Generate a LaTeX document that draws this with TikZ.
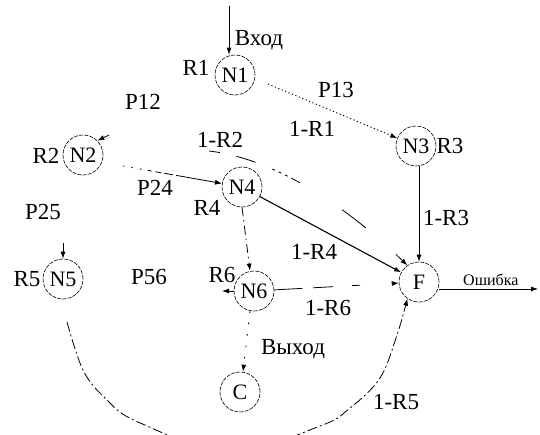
\documentclass[tikz,border=0pt]{standalone}
\usepackage{fontspec}
\setmainfont{Liberation Serif}
\usetikzlibrary{arrows.meta}
\begin{document}
\begin{tikzpicture}[x=1pt,y=-1pt,
  lbl/.style={font=\fontsize{23}{26}\selectfont, inner sep=0pt},
  st/.style={circle, draw, line width=0.6pt, dash pattern=on 4pt off 1.2pt, minimum size=40pt, inner sep=0pt, font=\fontsize{22}{25}\selectfont},
  tip/.style={-{Latex[length=7pt,width=5pt]}},
  conn/.style={line width=0.8pt},
  dotl/.style={line width=0.9pt, dash pattern=on 1.2pt off 2.5pt},
  fade/.style={line width=0.8pt, dash pattern=on 1.5pt off 7pt on 1.5pt off 7pt on 2pt off 6pt on 4pt off 4pt on 6pt off 3pt on 9pt off 3pt on 40pt off 1pt},
  dashdotl/.style={line width=0.8pt, dash pattern=on 9pt off 4pt on 1.5pt off 4pt},
  sparse/.style={line width=0.9pt, dash pattern=on 1.5pt off 10pt},
  brokenl/.style={line width=0.8pt, dash pattern=on 28pt off 11pt on 20pt off 19pt on 8pt off 60pt},
  curvl/.style={line width=0.8pt, dash pattern=on 11pt off 17pt on 20pt off 18pt on 3pt off 4pt on 3pt off 4pt on 3pt off 4pt on 10pt off 50pt on 30pt off 40pt},
  arcl/.style={line width=0.8pt, dash pattern=on 10pt off 3pt on 2pt off 3pt}]
\useasboundingbox (0,0) rectangle (540,434);

% states
\node[st] (N1) at (235,75) {N1};
\node[st] (N2) at (83,155) {N2};
\node[st] (N3) at (416,146) {N3};
\node[st] (N4) at (242,187) {N4};
\node[st] (N5) at (63,279) {N5};
\node[st] (N6) at (254,291) {N6};
\node[st] (F) at (419,282) {F};
\node[st] (C) at (240,392) {C};

% labels
\node[lbl] (lR1) at (196,68) {R1};
\node[lbl] (lP12) at (143,102) {P12};
\node[lbl] (lR2) at (46,156) {R2};
\node[lbl] (l1R2) at (220,140) {1-R2};
\node[lbl] (lP24) at (155,188) {P24};
\node[lbl] (lR4) at (207,208) {R4};
\node[lbl] (lP25) at (43,212) {P25};
\node[lbl] (lP13) at (336,90) {P13};
\node[lbl] (l1R1) at (312,129) {1-R1};
\node[lbl] (lR3) at (450,146) {R3};
\node[lbl] (l1R3) at (446,218) {1-R3};
\node[lbl] (lR5) at (27,279) {R5};
\node[lbl] (lP56) at (149,277) {P56};
\node[lbl] (lR6) at (222,275) {R6};
\node[lbl] (l1R4) at (314,252) {1-R4};
\node[lbl] (l1R6) at (328,308) {1-R6};
\node[lbl] (l1R5) at (396,402) {1-R5};
\node[lbl] (lin) at (259,40) {Вход};
\node[lbl] (lout) at (293,349) {Выход};
\node[lbl, anchor=west, font=\fontsize{16}{19}\selectfont] (lerr) at (463,280) {Ошибка};

% free ends
\coordinate (in) at (229,6);
\coordinate (out) at (538,289);
\coordinate (s13) at (268,84);
\coordinate (s24) at (123,166);
\coordinate (s2F) at (209,151);
\coordinate (p12) at (109,135);
\coordinate (p25) at (63,243);
\coordinate (r6) at (222,291);
\coordinate (e5) at (F.235);

% connectors
\draw[conn,tip] (in) -- (N1.north -| in);
\draw[dotl,tip] (s13) -- (N3);
\draw[fade,tip] (s24) -- (N4);
\draw[line width=1.1pt,tip] (N4) -- (F);
\draw[conn,tip] (N3.south -| F) -- (F.north);
\draw[conn,tip] (out -| F.east) -- (out);
\draw[dashdotl,tip] (N4.south) -- ([xshift=-4pt]N6.north);
\draw[brokenl,tip] (N6) -- (F);
\draw[sparse,tip] ([xshift=-4pt]N6.south) -- ([xshift=3pt]C.north);
\draw[curvl,tip] (s2F) .. controls (270,158) and (340,200) .. (F.125);
\draw[arcl,tip] plot[smooth, tension=0.6] coordinates {(67,322) (83,370) (105,398) (138,422) (230,452) (320,426) (350,408) (380,378) (397,335) (e5)};
\draw[conn,tip] (p12) -- (N2.45);
\draw[conn,tip] (p25) -- (N5.north);
\draw[conn,tip] (N6.west) -- (r6);
\end{tikzpicture}
\end{document}
